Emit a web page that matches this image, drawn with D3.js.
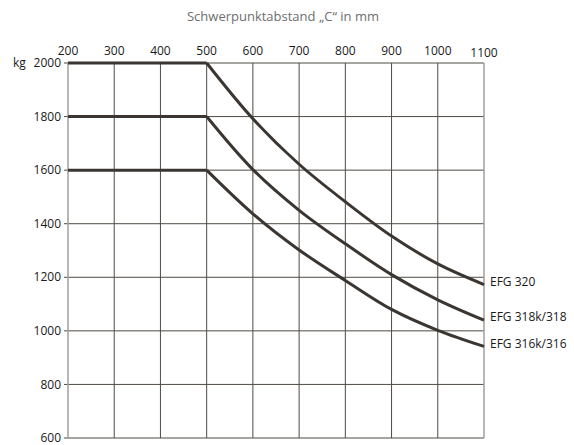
<!DOCTYPE html>
<html>
<head>
<meta charset="utf-8">
<script src="https://cdn.jsdelivr.net/npm/d3@7"></script>
<style>
  body { margin: 0; background: #fff; }
  svg text { font-family: "Open Sans", sans-serif; }
</style>
</head>
<body>
<div id="chart"></div>
<script>
// Schwerpunktabstand C (mm)
var distances = [200, 500, 600, 700, 800, 900, 1000, 1100];
var xTicks = [200, 300, 400, 500, 600, 700, 800, 900, 1000, 1100];
var yTicks = [600, 800, 1000, 1200, 1400, 1600, 1800, 2000];

var seriesNames = ["EFG 320", "EFG 318k/318", "EFG 316k/316"];
// Tragfähigkeit in kg, je Abstand
var load320 = [2000, 2000, 1792, 1622, 1482, 1354, 1250, 1173];
var load318 = [1800, 1800, 1602, 1450, 1325, 1210, 1116, 1040];
var load316 = [1600, 1600, 1437, 1302, 1188, 1080, 1002, 942];

var width = 574,
    height = 445,
    gridColor = "#4f4a44",
    borderColor = "#a39e98",
    curveColor = "#3b3631";

var svg = d3.select("#chart").append("svg")
            .attr("width", width)
            .attr("height", height);

var x = d3.scaleLinear().domain([200, 1100]).range([68, 484]),
    y = d3.scaleLinear().domain([600, 2000]).range([438, 63]);

// title
svg.append("text")
   .attr("x", 283)
   .attr("y", 21)
   .attr("text-anchor", "middle")
   .style("font-size", "13px")
   .style("fill", "#6e6e6e")
   .text("Schwerpunktabstand \u201EC\u201C in mm");

// vertical grid
svg.selectAll(".vgrid")
   .data(xTicks.slice(1, -1))
   .enter().append("line")
   .attr("class", "vgrid")
   .attr("x1", function(d) { return x(d); })
   .attr("x2", function(d) { return x(d); })
   .attr("y1", y(2000))
   .attr("y2", y(600))
   .style("stroke", gridColor)
   .style("stroke-width", 1);

// horizontal grid
svg.selectAll(".hgrid")
   .data(yTicks)
   .enter().append("line")
   .attr("class", "hgrid")
   .attr("x1", x(200) - 4)
   .attr("x2", x(1100))
   .attr("y1", function(d) { return y(d); })
   .attr("y2", function(d) { return y(d); })
   .style("stroke", gridColor)
   .style("stroke-width", 1);

// left / right border
svg.selectAll(".border")
   .data([200, 1100])
   .enter().append("line")
   .attr("class", "border")
   .attr("x1", function(d) { return x(d); })
   .attr("x2", function(d) { return x(d); })
   .attr("y1", y(2000))
   .attr("y2", y(600))
   .style("stroke", borderColor)
   .style("stroke-width", 1.5);

// top tick labels
svg.selectAll(".xLabel")
   .data(xTicks)
   .enter().append("text")
   .attr("class", "xLabel")
   .attr("x", function(d) { return x(d); })
   .attr("y", function(d) { return d === 1100 ? 57 : 55; })
   .attr("text-anchor", "middle")
   .style("font-size", "12px")
   .style("fill", "#1a1a1a")
   .text(function(d) { return d; });

// left tick labels
svg.selectAll(".yLabel")
   .data(yTicks)
   .enter().append("text")
   .attr("class", "yLabel")
   .attr("x", x(200) - 7)
   .attr("y", function(d) { return y(d); })
   .attr("dy", "0.35em")
   .attr("text-anchor", "end")
   .style("font-size", "12px")
   .style("fill", "#1a1a1a")
   .text(function(d) { return d; });

svg.append("text")
   .attr("x", 13)
   .attr("y", y(2000))
   .attr("dy", "0.35em")
   .style("font-size", "12px")
   .style("fill", "#1a1a1a")
   .text("kg");

// curves: flat part straight, falling part smooth
var loads = [load320, load318, load316];

var flatLine = d3.line()
                 .x(function(d) { return x(d[0]); })
                 .y(function(d) { return y(d[1]); });

var fallLine = d3.line()
                 .x(function(d) { return x(d[0]); })
                 .y(function(d) { return y(d[1]); })
                 .curve(d3.curveCatmullRom.alpha(0.5));

loads.forEach(function(vals, s) {
    var pts = distances.map(function(c, i) { return [c, vals[i]]; });
    var g = svg.append("g").attr("class", "series");

    g.append("path")
     .attr("d", flatLine(pts.slice(0, 2)))
     .style("fill", "none")
     .style("stroke", curveColor)
     .style("stroke-width", 3);

    g.append("path")
     .attr("d", fallLine(pts.slice(1)))
     .style("fill", "none")
     .style("stroke", curveColor)
     .style("stroke-width", 3)
     .style("stroke-linecap", "butt");

    g.append("text")
     .attr("x", x(1100) + 6)
     .attr("y", y(vals[vals.length - 1]) - 3)
     .attr("dy", "0.35em")
     .style("font-size", "12px")
     .style("fill", "#1a1a1a")
     .text(seriesNames[s]);
});
</script>
</body>
</html>
